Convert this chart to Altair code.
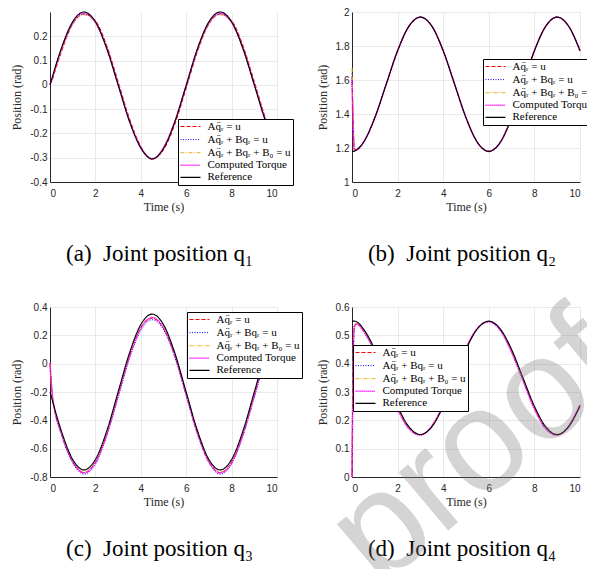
import altair as alt
import pandas as pd

T = [0, 0.05, 0.1, 0.2, 0.5, 1.0, 1.5, 2.0, 2.5, 3.0, 3.5, 4.0, 4.5, 5.0, 5.5,
     6.0, 6.5, 7.0, 7.5, 8.0, 8.5, 9.0, 9.5, 10.0]

SERIES = ["Aq̈ᵣ = u", "Aq̈ᵣ + Bqᵣ = u", "Aq̈ᵣ + Bqᵣ + B₀ = u", "Computed Torque", "Reference"]
COLORS = ["#ff0000", "#0000ff", "#edb120", "#ff00ff", "#000000"]
DASHES = [[4, 2], [1, 1.5], [4, 1.5, 1, 1.5], [1.2, 0.8], [1, 0]]
WIDTHS = [1.0, 1.0, 1.0, 1.6, 1.1]

# ---- q1 ----
Q1_RED = [0.0, 0.008, 0.020, 0.050, 0.135, 0.250, 0.292, 0.265, 0.162, 0.014, -0.138, -0.253, -0.305, -0.268, -0.163, -0.014, 0.138, 0.250, 0.292, 0.265, 0.162, 0.014, -0.138, -0.253]
Q1_BLUE = [0.0, 0.012, 0.026, 0.058, 0.145, 0.253, 0.291, 0.257, 0.150, 0.003, -0.147, -0.257, -0.303, -0.259, -0.151, -0.003, 0.145, 0.253, 0.291, 0.257, 0.150, 0.003, -0.147, -0.257]
Q1_ORANGE = [0.0, 0.012, 0.025, 0.057, 0.143, 0.250, 0.288, 0.256, 0.151, 0.005, -0.145, -0.257, -0.308, -0.260, -0.153, -0.004, 0.143, 0.250, 0.288, 0.256, 0.151, 0.005, -0.145, -0.257]
Q1_CT = [0.0, 0.014, 0.028, 0.060, 0.147, 0.256, 0.295, 0.258, 0.150, 0.002, -0.148, -0.258, -0.305, -0.260, -0.151, -0.002, 0.147, 0.256, 0.295, 0.258, 0.150, 0.002, -0.148, -0.258]
Q1_REF = [0.0, 0.016, 0.031, 0.063, 0.150, 0.260, 0.300, 0.260, 0.150, 0.000, -0.150, -0.260, -0.305, -0.262, -0.152, -0.002, 0.150, 0.260, 0.300, 0.260, 0.150, 0.000, -0.150, -0.260]

# ---- q2 ----
Q2_RED = [1.620, 1.360, 1.190, 1.188, 1.232, 1.377, 1.574, 1.771, 1.916, 1.969, 1.917, 1.773, 1.576, 1.379, 1.234, 1.181, 1.232, 1.377, 1.574, 1.771, 1.916, 1.969, 1.917, 1.773]
Q2_BLUE = [1.640, 1.380, 1.200, 1.190, 1.233, 1.378, 1.575, 1.772, 1.917, 1.970, 1.917, 1.772, 1.575, 1.378, 1.233, 1.180, 1.233, 1.378, 1.575, 1.772, 1.917, 1.970, 1.917, 1.772]
Q2_ORANGE = [1.670, 1.400, 1.205, 1.191, 1.234, 1.378, 1.575, 1.772, 1.917, 1.970, 1.917, 1.772, 1.575, 1.378, 1.233, 1.180, 1.233, 1.378, 1.575, 1.772, 1.917, 1.970, 1.917, 1.772]
Q2_CT = [1.600, 1.300, 1.185, 1.188, 1.232, 1.377, 1.575, 1.772, 1.917, 1.970, 1.917, 1.772, 1.575, 1.378, 1.233, 1.180, 1.233, 1.378, 1.575, 1.772, 1.917, 1.970, 1.917, 1.772]
Q2_REF = [1.180, 1.180, 1.181, 1.189, 1.233, 1.378, 1.575, 1.772, 1.917, 1.970, 1.917, 1.772, 1.575, 1.378, 1.233, 1.180, 1.233, 1.378, 1.575, 1.772, 1.917, 1.970, 1.917, 1.772]

# ---- q3 ----
Q3_RED = [0.0, -0.130, -0.230, -0.325, -0.495, -0.695, -0.770, -0.695, -0.495, -0.220, 0.055, 0.255, 0.320, 0.250, 0.055, -0.220, -0.495, -0.695, -0.770, -0.695, -0.495, -0.220, 0.055, 0.255]
Q3_BLUE = [0.0, -0.110, -0.210, -0.320, -0.500, -0.700, -0.780, -0.710, -0.510, -0.240, 0.035, 0.235, 0.310, 0.240, 0.045, -0.230, -0.500, -0.700, -0.780, -0.710, -0.510, -0.240, 0.035, 0.235]
Q3_ORANGE = [0.0, -0.120, -0.220, -0.320, -0.485, -0.685, -0.765, -0.690, -0.490, -0.215, 0.060, 0.260, 0.325, 0.260, 0.065, -0.210, -0.485, -0.685, -0.765, -0.690, -0.490, -0.215, 0.060, 0.260]
Q3_CT = [0.0, -0.120, -0.220, -0.320, -0.490, -0.690, -0.770, -0.700, -0.500, -0.225, 0.050, 0.250, 0.325, 0.255, 0.060, -0.215, -0.490, -0.690, -0.770, -0.700, -0.500, -0.225, 0.050, 0.250]
Q3_REF = [-0.200, -0.229, -0.257, -0.315, -0.475, -0.676, -0.750, -0.676, -0.475, -0.200, 0.075, 0.276, 0.350, 0.276, 0.075, -0.200, -0.475, -0.676, -0.750, -0.676, -0.475, -0.200, 0.075, 0.276]

# ---- q4 ----
Q4_RED = [0.0, 0.420, 0.530, 0.540, 0.517, 0.443, 0.343, 0.243, 0.172, 0.149, 0.178, 0.253, 0.353, 0.453, 0.523, 0.549, 0.520, 0.443, 0.343, 0.243, 0.172, 0.149, 0.178, 0.253]
Q4_BLUE = [0.0, 0.430, 0.533, 0.542, 0.518, 0.444, 0.344, 0.244, 0.173, 0.149, 0.179, 0.254, 0.354, 0.454, 0.524, 0.549, 0.519, 0.444, 0.344, 0.244, 0.173, 0.149, 0.179, 0.254]
Q4_ORANGE = [0.0, 0.440, 0.535, 0.543, 0.519, 0.445, 0.345, 0.245, 0.174, 0.150, 0.179, 0.254, 0.354, 0.454, 0.524, 0.549, 0.520, 0.445, 0.345, 0.245, 0.174, 0.150, 0.179, 0.254]
Q4_CT = [0.0, 0.400, 0.528, 0.540, 0.515, 0.440, 0.340, 0.240, 0.170, 0.148, 0.180, 0.255, 0.355, 0.455, 0.525, 0.548, 0.518, 0.440, 0.340, 0.240, 0.170, 0.148, 0.180, 0.255]
Q4_REF = [0.550, 0.550, 0.550, 0.548, 0.523, 0.450, 0.350, 0.250, 0.177, 0.150, 0.177, 0.250, 0.350, 0.450, 0.523, 0.550, 0.523, 0.450, 0.350, 0.250, 0.177, 0.150, 0.177, 0.250]

X_TICKS = [0, 2, 4, 6, 8, 10]
Y1_TICKS = [-0.4, -0.3, -0.2, -0.1, 0, 0.1, 0.2]
Y2_TICKS = [1, 1.2, 1.4, 1.6, 1.8, 2]
Y3_TICKS = [-0.8, -0.6, -0.4, -0.2, 0, 0.2, 0.4]
Y4_TICKS = [0, 0.1, 0.2, 0.3, 0.4, 0.5, 0.6]

NB = "\u00a0"
CAPTIONS = ["(a)" + NB + NB + "Joint position q₁", "(b)" + NB + NB + "Joint position q₂",
            "(c)" + NB + NB + "Joint position q₃", "(d)" + NB + NB + "Joint position q₄"]
WATERMARK = "proof"

LABEL_EXPR = "replace(format(datum.value, '~g'), '\u2212', '-')"
PLOT_H = 170


def panel(series_values, ydomain, yticks, legend_xy, caption, width, extra=None):
    rows = []
    for name, vals in zip(SERIES, series_values):
        for t, v in zip(T, vals):
            rows.append({"t": t, "q": v, "series": name})
    df = pd.DataFrame(rows)
    leg = alt.Legend(
        orient="none", legendX=legend_xy[0], legendY=legend_xy[1], title=None,
        symbolType="M-2,0H2", symbolSize=100, symbolStrokeWidth=1.2,
        symbolOffset=4.5, labelOffset=11, labelFont="Liberation Serif",
        labelFontSize=11, labelColor="black", labelLimit=300,
        padding=2, rowPadding=1.1, strokeColor="black", fillColor="white",
        cornerRadius=0,
    )
    lines = alt.Chart(df).mark_line(interpolate="monotone").encode(
        x=alt.X("t:Q", scale=alt.Scale(domain=[0, 10], nice=False),
                axis=alt.Axis(values=X_TICKS, title="Time (s)", labelExpr=LABEL_EXPR,
                              labelPadding=6, titlePadding=3)),
        y=alt.Y("q:Q", scale=alt.Scale(domain=ydomain, nice=False, zero=False),
                axis=alt.Axis(values=yticks, title="Position (rad)", labelExpr=LABEL_EXPR,
                              labelPadding=3, titlePadding=6)),
        color=alt.Color("series:N", scale=alt.Scale(domain=SERIES, range=COLORS), legend=leg),
        strokeDash=alt.StrokeDash("series:N", scale=alt.Scale(domain=SERIES, range=DASHES), legend=leg),
        strokeWidth=alt.StrokeWidth("series:N", scale=alt.Scale(type="ordinal", domain=SERIES, range=WIDTHS), legend=None),
    )
    cap = alt.Chart(pd.DataFrame({"c": [caption]})).mark_text(
        font="Liberation Serif", fontSize=23, color="black", align="center", baseline="middle",
    ).encode(text="c:N", x=alt.value(width / 2 - 4), y=alt.value(PLOT_H + 72))
    layers = [lines, cap] + ([extra] if extra is not None else [])
    return alt.layer(*layers).properties(width=width, height=PLOT_H)


wm = alt.Chart(pd.DataFrame({"w": [WATERMARK]})).mark_text(
    angle=320, fontSize=145, font="Liberation Sans", color="#808080", opacity=0.33,
    align="center", baseline="middle",
).encode(text="w:N", x=alt.value(125), y=alt.value(142))

pa = panel([Q1_RED, Q1_BLUE, Q1_ORANGE, Q1_CT, Q1_REF], [-0.4, 0.3], Y1_TICKS, (128, 107), CAPTIONS[0], 227)
pb = panel([Q2_RED, Q2_BLUE, Q2_ORANGE, Q2_CT, Q2_REF], [1, 2], Y2_TICKS, (131, 47), CAPTIONS[1], 228)
pc = panel([Q3_RED, Q3_BLUE, Q3_ORANGE, Q3_CT, Q3_REF], [-0.8, 0.4], Y3_TICKS, (137, 5), CAPTIONS[2], 227)
pdd = panel([Q4_RED, Q4_BLUE, Q4_ORANGE, Q4_CT, Q4_REF], [0, 0.6], Y4_TICKS, (1, 38), CAPTIONS[3], 228, wm)

chart = alt.concat(pa, pb, pc, pdd, columns=2, spacing=alt.RowColnumber(row=125, column=75),
                   bounds="flush").resolve_scale(
    color="independent", strokeDash="independent", strokeWidth="independent"
).resolve_legend(color="independent", strokeDash="independent").properties(
    autosize=alt.AutoSizeParams(type="none"),
    padding={"left": 42, "top": 4, "right": 537, "bottom": 557},
).configure_axis(
    grid=True, gridColor="#e3e3e3", gridWidth=0.8, domainColor="#262626", domainWidth=1,
    ticks=False, labelFont="Liberation Sans", labelFontSize=10, labelColor="#262626",
    titleFont="Liberation Serif", titleFontSize=12, titleFontWeight="normal", titleColor="#262626",
).configure_view(stroke=None)

chart.save("out.html", embed_options={"renderer": "svg", "actions": False})
